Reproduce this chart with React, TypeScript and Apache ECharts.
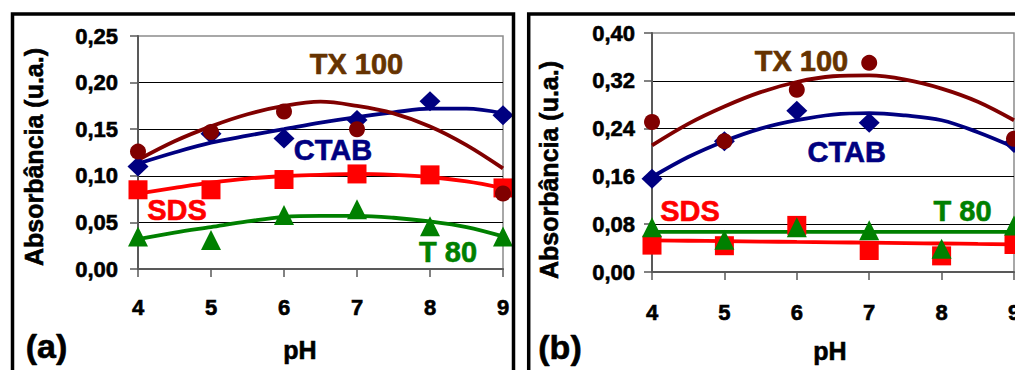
import React, { useEffect, useRef } from "react";
import * as echarts from "echarts";

// pH values of the measured points and of the read-off trend curves
const pH = [4, 5, 6, 7, 8, 9];
const trendPH = [4, 4.5, 5, 5.5, 6, 6.5, 7, 7.5, 8, 8.5, 9];

// Panel (a)
const tx100A = [0.126, 0.147, 0.169, 0.15, null, 0.081];
const ctabA = [0.11, 0.145, 0.14, 0.16, 0.18, 0.165];
const sdsA = [0.085, 0.085, 0.096, 0.102, 0.101, 0.087];
const t80A = [0.035, 0.031, 0.058, 0.064, 0.046, 0.035];
const tx100TrendA = [0.117, 0.137, 0.153, 0.166, 0.175, 0.1795, 0.175, 0.167, 0.153, 0.133, 0.108];
const ctabTrendA = [0.113, 0.125, 0.1355, 0.143, 0.15, 0.157, 0.163, 0.168, 0.172, 0.172, 0.167];
const sdsTrendA = [0.081, 0.087, 0.0926, 0.097, 0.0998, 0.101, 0.102, 0.101, 0.0987, 0.094, 0.087];
const t80TrendA = [0.032, 0.039, 0.045, 0.051, 0.056, 0.057, 0.057, 0.055, 0.051, 0.045, 0.035];

// Panel (b)
const tx100B = [0.251, 0.219, 0.305, 0.35, null, 0.223];
const ctabB = [0.156, 0.219, 0.27, 0.25, null, 0.216];
const sdsB = [0.045, 0.044, 0.078, 0.036, 0.027, 0.046];
const t80B = [0.075, 0.054, 0.075, 0.07, 0.039, 0.078];
const tx100TrendB = [0.212, 0.248, 0.277, 0.301, 0.318, 0.3276, 0.329, 0.322, 0.307, 0.285, 0.254];
const ctabTrendB = [0.159, 0.1925, 0.219, 0.24, 0.254, 0.2635, 0.266, 0.262, 0.254, 0.234, 0.209];
const sdsTrendB = [0.053, 0.0523, 0.0517, 0.051, 0.0503, 0.0497, 0.049, 0.0484, 0.0477, 0.047, 0.0464];
const t80TrendB = [0.067, 0.067, 0.067, 0.067, 0.067, 0.067, 0.067, 0.067, 0.067, 0.067, 0.067];

// Y tick settings
const yMaxA = 0.25;
const yStepA = 0.05;
const yMaxB = 0.4;
const yStepB = 0.08;

const FONT = '"Liberation Sans", Arial, sans-serif';
const C_TX = "#800000";
const C_TX_TEXT = "#663300";
const C_CTAB = "#000080";
const C_SDS = "#ff0000";
const C_T80 = "#008000";
const C_AXIS = "#595959";

const pairs = (xs: number[], ys: (number | null)[]) =>
  xs.map((x, i) => [x, ys[i]]).filter((p) => p[1] !== null && p[1] !== undefined);

function App() {
  const ref = useRef<HTMLDivElement>(null);

  useEffect(() => {
    if (!ref.current) return;
    const chart = echarts.init(ref.current, undefined, { renderer: "svg" });

    const xAxisBase = (gridIndex: number, margin: number) => ({
      type: "value",
      gridIndex,
      min: 4,
      max: 9,
      interval: 1,
      axisLine: { show: true, lineStyle: { color: C_AXIS, width: 2 } },
      axisTick: { show: true, length: 8, lineStyle: { color: C_AXIS, width: 1.5 } },
      splitLine: { show: false },
      axisLabel: {
        show: true,
        margin,
        color: "#000",
        fontSize: 22,
        fontWeight: "bold",
        fontFamily: FONT,
        textBorderColor: "#000",
        textBorderWidth: 0.6,
        showMinLabel: true,
        showMaxLabel: true,
      },
    });

    const yAxisBase = (gridIndex: number, max: number, step: number, margin: number) => ({
      type: "value",
      gridIndex,
      min: 0,
      max,
      interval: step,
      axisLine: { show: true, lineStyle: { color: C_AXIS, width: 2 } },
      axisTick: { show: true, length: 8, lineStyle: { color: C_AXIS, width: 1.5 } },
      splitLine: {
        show: true,
        showMinLine: false,
        showMaxLine: false,
        lineStyle: { color: "#000", width: 1 },
      },
      axisLabel: {
        margin,
        color: "#000",
        fontSize: 22,
        fontWeight: "bold",
        fontFamily: FONT,
        textBorderColor: "#000",
        textBorderWidth: 0.6,
        formatter: (v: number) => v.toFixed(2).replace(".", ","),
      },
    });

    const trend = (idx: number, ys: number[], color: string) => ({
      type: "line",
      xAxisIndex: idx,
      yAxisIndex: idx,
      data: pairs(trendPH, ys),
      smooth: 0.35,
      symbol: "none",
      lineStyle: { color, width: 3.8 },
      z: 2,
      silent: true,
    });

    const scatter = (
      idx: number,
      ys: (number | null)[],
      color: string,
      symbol: string,
      size: number | number[],
      z: number
    ) => ({
      type: "scatter",
      xAxisIndex: idx,
      yAxisIndex: idx,
      data: pairs(pH, ys),
      symbol,
      symbolSize: size,
      itemStyle: { color, opacity: 1 },
      z,
      silent: true,
    });

    const label = (text: string, x: number, y: number, color: string, size = 29) => ({
      type: "text",
      x,
      y,
      z: 100,
      style: {
        text,
        fill: color,
        fontSize: size,
        fontWeight: "bold",
        fontFamily: FONT,
        stroke: color,
        lineWidth: 0.6,
        align: "center",
        verticalAlign: "middle",
      },
    });

    const yTitle = (x: number, y: number) => ({
      type: "text",
      x,
      y,
      rotation: Math.PI / 2,
      z: 100,
      style: {
        text: "Absorbância (u.a.)",
        fill: "#000",
        fontSize: 25,
        fontWeight: "bold",
        fontFamily: FONT,
        stroke: "#000",
        lineWidth: 0.6,
        align: "center",
        verticalAlign: "middle",
      },
    });

    const option = {
      animation: false,
      backgroundColor: "#fff",
      grid: [
        {
          left: 138,
          top: 36,
          width: 365,
          height: 233,
          show: true,
          borderColor: "#8c8c8c",
          borderWidth: 1.5,
          backgroundColor: "transparent",
        },
        {
          left: 652,
          top: 33,
          width: 362,
          height: 239,
          show: true,
          borderColor: "#8c8c8c",
          borderWidth: 1.5,
          backgroundColor: "transparent",
        },
      ],
      xAxis: [xAxisBase(0, 27), xAxisBase(1, 29)],
      yAxis: [yAxisBase(0, yMaxA, yStepA, 20), yAxisBase(1, yMaxB, yStepB, 17)],
      series: [
        trend(0, sdsTrendA, C_SDS),
        trend(0, t80TrendA, C_T80),
        trend(0, ctabTrendA, C_CTAB),
        trend(0, tx100TrendA, C_TX),
        scatter(0, sdsA, C_SDS, "rect", 19, 3),
        scatter(0, t80A, C_T80, "triangle", 20, 4),
        scatter(0, ctabA, C_CTAB, "diamond", [21, 20], 5),
        scatter(0, tx100A, C_TX, "circle", 16, 6),
        trend(1, sdsTrendB, C_SDS),
        trend(1, t80TrendB, C_T80),
        trend(1, ctabTrendB, C_CTAB),
        trend(1, tx100TrendB, C_TX),
        scatter(1, sdsB, C_SDS, "rect", 19, 3),
        scatter(1, t80B, C_T80, "triangle", 20, 4),
        scatter(1, ctabB, C_CTAB, "diamond", [21, 20], 5),
        scatter(1, tx100B, C_TX, "circle", 16, 6),
      ],
      graphic: [
        {
          type: "rect",
          shape: { x: 12.5, y: 14, width: 501, height: 420 },
          style: { fill: "none", stroke: "#000", lineWidth: 3.5 },
          z: 100,
        },
        {
          type: "rect",
          shape: { x: 528.7, y: 14, width: 600, height: 420 },
          style: { fill: "none", stroke: "#000", lineWidth: 3.5 },
          z: 100,
        },
        yTitle(34, 157),
        yTitle(549, 170),
        label("pH", 300, 350, "#000", 25),
        label("pH", 830, 351, "#000", 25),
        label("(a)", 46.5, 346, "#000", 34),
        label("(b)", 560, 347, "#000", 34),
        label("TX 100", 356.5, 64, C_TX_TEXT),
        label("CTAB", 333, 150, C_CTAB),
        label("SDS", 177, 210, C_SDS),
        label("T 80", 448, 252, C_T80),
        label("TX 100", 801.5, 61, C_TX_TEXT),
        label("CTAB", 846.7, 152, C_CTAB),
        label("SDS", 690, 211, C_SDS),
        label("T 80", 962.5, 211, C_T80),
      ],
    };

    chart.setOption(option as any);
    return () => chart.dispose();
  }, []);

  return (
    <div
      style={{
        position: "fixed",
        left: 0,
        top: 0,
        width: 1015,
        height: 370,
        overflow: "hidden",
        background: "#fff",
      }}
    >
      <div ref={ref} style={{ width: 1045, height: 370 }} />
    </div>
  );
}

export default App;
